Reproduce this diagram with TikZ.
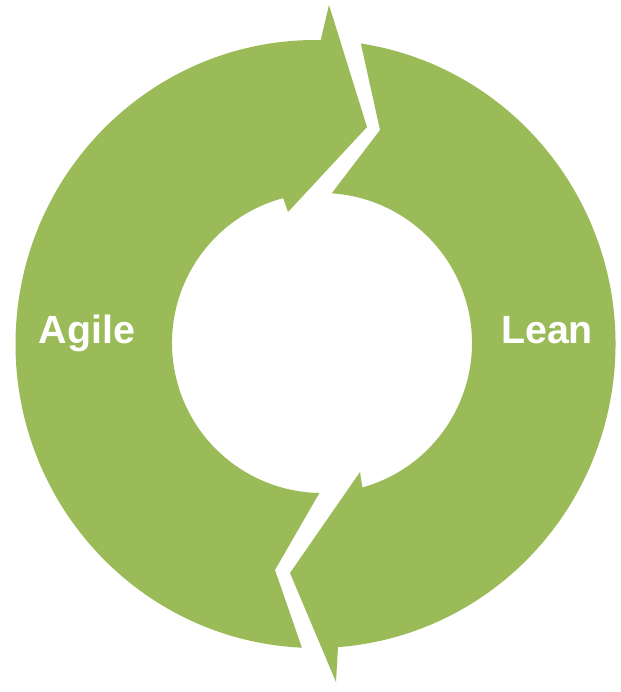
\documentclass[tikz,border=0pt]{standalone}
\usepackage{fontspec}
\setmainfont{Liberation Sans}
\definecolor{ringgreen}{HTML}{9BBB59}
\tikzset{
  ring/.style={fill=ringgreen},
  lbl/.style={text=white, font=\bfseries\fontsize{28}{34}\selectfont, anchor=base, inner sep=0pt}
}
\begin{document}
\begin{tikzpicture}[x=0.025cm, y=-0.025cm]
\useasboundingbox (0,0) rectangle (620,692);
\fill[white] (0,0) rectangle (620,692);
\coordinate (Co) at (315.5,344);
\coordinate (Ci) at (322,343);
% Agile arc (left), arrowhead at top
\fill[ring] ([shift={(Co)}]92.6:300 and 304)
  arc[start angle=92.6, end angle=271, x radius=300, y radius=304]
  -- (329,5) -- (367,127) -- (288,212)
  -- ([shift={(Ci)}]255:150)
  arc[start angle=255, end angle=91, radius=150]
  -- (275,570) -- cycle;
% Lean arc (right), arrowhead at bottom
\fill[ring] ([shift={(Co)}]-81.3:300 and 304)
  arc[start angle=-81.3, end angle=85.7, x radius=300, y radius=304]
  -- (336,682) -- (290,573) -- (360,472)
  -- ([shift={(Ci)}]74.4:150)
  arc[start angle=74.4, end angle=-86.3, radius=150]
  -- (380,130) -- cycle;
\node[lbl] (agile) at (87,343) {Agile};
\node[lbl] (lean) at (547,343) {Lean};
\end{tikzpicture}
\end{document}
